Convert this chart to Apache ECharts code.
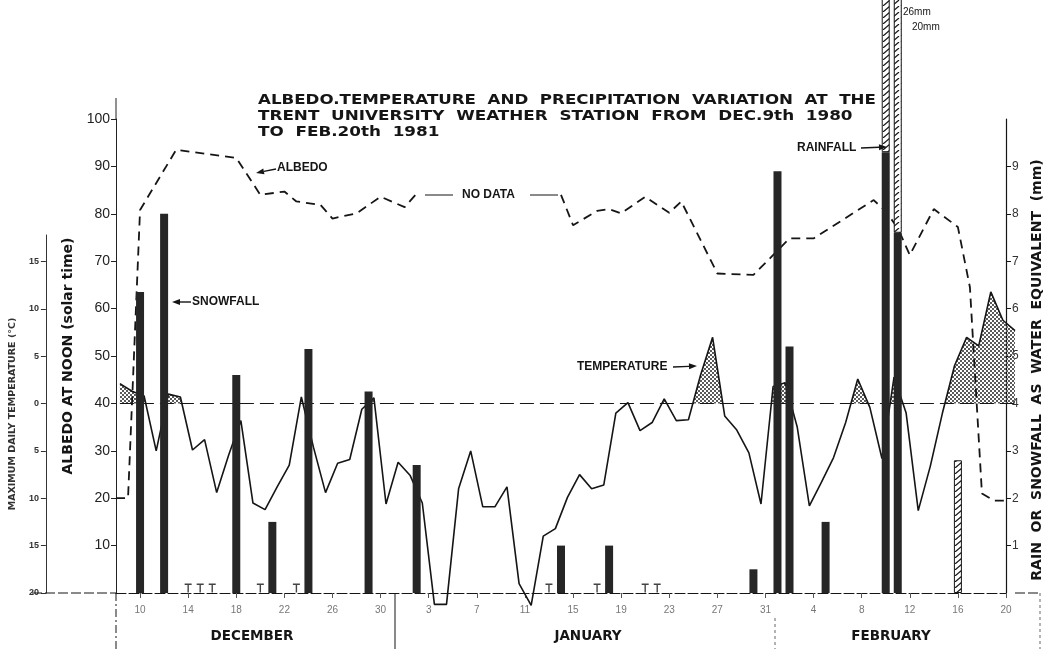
<!DOCTYPE html>
<html>
<head>
<meta charset="utf-8">
<script src="https://cdn.jsdelivr.net/npm/echarts@6/dist/echarts.min.js"></script>
<style>
html, body { margin: 0; padding: 0; background: #fff; }
#chart { width: 1052px; height: 649px; }
</style>
</head>
<body>
<div id="chart"></div>
<script>
// one category per day, Dec 8 1980 .. Feb 20 1981
var days = [
	'Dec 8','Dec 9','Dec 10','Dec 11','Dec 12','Dec 13','Dec 14','Dec 15','Dec 16','Dec 17','Dec 18','Dec 19',
	'Dec 20','Dec 21','Dec 22','Dec 23','Dec 24','Dec 25','Dec 26','Dec 27','Dec 28','Dec 29','Dec 30','Dec 31',
	'Jan 1','Jan 2','Jan 3','Jan 4','Jan 5','Jan 6','Jan 7','Jan 8','Jan 9','Jan 10','Jan 11','Jan 12','Jan 13',
	'Jan 14','Jan 15','Jan 16','Jan 17','Jan 18','Jan 19','Jan 20','Jan 21','Jan 22','Jan 23','Jan 24','Jan 25',
	'Jan 26','Jan 27','Jan 28','Jan 29','Jan 30','Jan 31',
	'Feb 1','Feb 2','Feb 3','Feb 4','Feb 5','Feb 6','Feb 7','Feb 8','Feb 9','Feb 10','Feb 11','Feb 12','Feb 13',
	'Feb 14','Feb 15','Feb 16','Feb 17','Feb 18','Feb 19','Feb 20'
];
var tickDays = ['Dec 10','Dec 14','Dec 18','Dec 22','Dec 26','Dec 30','Jan 3','Jan 7','Jan 11','Jan 15',
	'Jan 19','Jan 23','Jan 27','Jan 31','Feb 4','Feb 8','Feb 12','Feb 16','Feb 20'];

// maximum daily temperature (deg C), one per day
var temps = [
	2.1, 1.3, 0.8, -5.0, 1.0, 0.7, -4.9, -3.8, -9.4, -5.4, -1.8, -10.5,
	-11.2, -8.8, -6.5, 0.7, -4.6, -9.4, -6.3, -5.9, -0.6, 0.6, -10.6, -6.2,
	-7.6, -10.5, -21.2, -21.2, -9.0, -5.0, -10.9, -10.9, -8.8, -19.0, -21.3, -14.0, -13.2,
	-9.9, -7.5, -9.0, -8.6, -1.0, 0.1, -2.85, -2.0, 0.5, -1.8, -1.7, 3.0,
	7.0, -1.3, -2.8, -5.2, -10.6, 1.8,
	2.2, -2.5, -10.8, -8.3, -5.7, -2.0, 2.6, -0.4, -5.8, 2.8, -1.0, -11.3, -6.6,
	-1.0, 4.0, 7.0, 6.1, 11.8, 8.8, 7.7
];

// albedo at noon (%), before and after the gap with no data
var albedoDaysA = ['Dec 8','Dec 9','Dec 10','Dec 13','Dec 18','Dec 20','Dec 22','Dec 23','Dec 25','Dec 26','Dec 28','Dec 30','Jan 1','Jan 2'];
var albedoA = [20, 20, 80.8, 93.5, 91.8, 84.0, 84.7, 82.6, 81.9, 79.0, 80.1, 83.6, 81.4, 84.3];
var albedoDaysB = ['Jan 14','Jan 15','Jan 17','Jan 18','Jan 19','Jan 21','Jan 23','Jan 24','Jan 27','Jan 30','Feb 2',
	'Feb 4','Feb 9','Feb 10','Feb 11','Feb 12','Feb 14','Feb 16','Feb 17','Feb 18','Feb 19','Feb 20'];
var albedoB = [84.0, 77.6, 80.6, 81.0, 80.1, 83.6, 80.2, 82.6, 67.4, 67.1, 74.8, 74.8, 82.9, 80.5, 77.0, 71.3, 81.0, 77.2, 64.5, 21, 19.5, 19.5];

// precipitation as water equivalent (mm)
var snowDays = ['Dec 10','Dec 12','Dec 18','Dec 21','Dec 24','Dec 29','Jan 2','Jan 14','Jan 18','Jan 30','Feb 1','Feb 2','Feb 5','Feb 10','Feb 11'];
var snowMm = [6.35, 8.0, 4.6, 1.5, 5.15, 4.25, 2.7, 1.0, 1.0, 0.5, 8.9, 5.2, 1.5, 9.3, 7.6];
var rainDays = ['Feb 10','Feb 11','Feb 16'];
var rainMm = [16.7, 12.4, 2.8];
var traceDays = ['Dec 14','Dec 15','Dec 16','Dec 20','Dec 23','Jan 13','Jan 17','Jan 21','Jan 22'];

var INK = '#151515';

function onDays(list, vals) {
	return days.map(d => {
		let k = list.indexOf(d);
		return k < 0 ? null : vals[k];
	});
}
function pairs(list, vals) {
	return list.map((d, k) => [d, vals[k]]);
}
function makePattern(w, h, draw) {
	let c = document.createElement('canvas');
	c.width = w; c.height = h;
	draw(c.getContext('2d'));
	return { image: c, repeat: 'repeat' };
}
var dots = makePattern(4, 4, ctx => {
	ctx.fillStyle = '#5a5a5a';
	ctx.fillRect(0, 0, 2, 2);
	ctx.fillRect(2, 2, 2, 2);
});
var hatch = makePattern(9, 6, ctx => {
	ctx.fillStyle = '#fff';
	ctx.fillRect(0, 0, 9, 6);
	ctx.strokeStyle = INK;
	ctx.lineWidth = 1.2;
	ctx.beginPath();
	ctx.moveTo(1, 6); ctx.lineTo(8, 0);
	ctx.stroke();
});

// stippled area where the temperature is above 0 deg C
function renderWarm(params, api) {
	let polys = [], cur = null;
	let pt = (i, v) => api.coord([i, v]);
	let cross = i => {
		let a = pt(i, 0), b = pt(i + 1, 0);
		let f = temps[i] / (temps[i] - temps[i + 1]);
		return [a[0] + (b[0] - a[0]) * f, a[1]];
	};
	for (let i = 0; i < temps.length; i++) {
		let v = temps[i];
		if (v > 0) {
			if (!cur) cur = [i > 0 ? cross(i - 1) : pt(i, 0)];
			cur.push(pt(i, v));
		} else if (cur) {
			cur.push(cross(i - 1));
			polys.push(cur);
			cur = null;
		}
	}
	if (cur) { cur.push(pt(temps.length - 1, 0)); polys.push(cur); }
	return {
		type: 'group',
		children: polys.map(p => ({ type: 'polygon', shape: { points: p }, style: { fill: dots, stroke: null } }))
	};
}

function txt(x, y, text, font, extra, align) {
	return Object.assign({
		type: 'text', x: x, y: y, z: 20,
		style: { text: text, font: font, fill: INK, align: align || 'left', verticalAlign: 'middle' }
	}, extra || {});
}
function seg(x1, y1, x2, y2, dash, color) {
	return { type: 'line', z: 20, shape: { x1: x1, y1: y1, x2: x2, y2: y2 },
		style: { stroke: color || INK, lineWidth: 1, lineDash: dash || null } };
}
function arrow(x1, y1, x2, y2) {
	let a = Math.atan2(y2 - y1, x2 - x1), L = 8, W = 3;
	let bx = x2 - L * Math.cos(a), by = y2 - L * Math.sin(a);
	return [
		{ type: 'line', z: 20, shape: { x1: x1, y1: y1, x2: bx, y2: by }, style: { stroke: INK, lineWidth: 1.4 } },
		{ type: 'polygon', z: 20, shape: { points: [[x2, y2], [bx - W * Math.sin(a), by + W * Math.cos(a)], [bx + W * Math.sin(a), by - W * Math.cos(a)]] }, style: { fill: INK } }
	];
}

var TITLE = 'bold 14px "DejaVu Sans"';
var LBL = 'bold 12px "Liberation Sans"';
var MONTH = 'bold 13.5px "DejaVu Sans"';

var graphics = [
	txt(258, 100, 'ALBEDO.TEMPERATURE  AND  PRECIPITATION  VARIATION  AT  THE', TITLE, { scaleX: 1.19 }),
	txt(258, 116, 'TRENT  UNIVERSITY  WEATHER  STATION  FROM  DEC.9th  1980', TITLE, { scaleX: 1.2 }),
	txt(258, 132, 'TO  FEB.20th  1981', TITLE, { scaleX: 1.2 }),
	txt(277, 168, 'ALBEDO', LBL),
	...arrow(276, 169, 256, 173),
	txt(192, 302, 'SNOWFALL', LBL),
	...arrow(191, 302, 172, 302),
	seg(425, 195, 453, 195),
	txt(462, 195, 'NO DATA', LBL),
	seg(530, 195, 558, 195),
	txt(577, 367, 'TEMPERATURE', LBL),
	...arrow(673, 367, 697, 366),
	txt(797, 148, 'RAINFALL', LBL),
	...arrow(861, 148, 887, 147),
	txt(903, 12, '26mm', '10px "Liberation Sans"'),
	txt(912, 27, '20mm', '10px "Liberation Sans"'),
	txt(252, 636, 'DECEMBER', MONTH, null, 'center'),
	txt(588, 636, 'JANUARY', MONTH, null, 'center'),
	txt(891, 636, 'FEBRUARY', MONTH, null, 'center'),
	seg(116, 98, 116, 119, null, '#222'),
	seg(32, 593, 116, 593, [10, 3]),
	seg(1015, 593, 1040, 593, [10, 3]),
	seg(116, 593, 116, 649, [8, 3, 2, 3]),
	seg(395, 593, 395, 649),
	seg(775, 618, 775, 649, [3, 3], '#666'),
	seg(1040, 593, 1040, 649, [3, 3], '#666')
];

var option = {
	animation: false,
	backgroundColor: '#fff',
	grid: [
		{ left: 116, right: 37, top: 119, bottom: 56 },
		{ left: 116, right: 37, top: 235, bottom: 56 }
	],
	xAxis: [
		{
			type: 'category', gridIndex: 0, data: days, boundaryGap: false,
			axisLine: { onZero: false, lineStyle: { color: INK, width: 1, type: [10, 3] } },
			axisTick: { interval: (i, v) => tickDays.indexOf(v) >= 0, length: 5, lineStyle: { color: '#555' } },
			axisLabel: {
				interval: (i, v) => tickDays.indexOf(v) >= 0,
				formatter: v => v.split(' ')[1],
				color: '#777', fontSize: 10, fontFamily: 'Liberation Sans', margin: 12
			},
			splitLine: { show: false }
		},
		{ type: 'category', gridIndex: 1, data: days, boundaryGap: false, show: false }
	],
	yAxis: [
		{
			type: 'value', gridIndex: 0, min: 0, max: 100, interval: 10, position: 'left',
			name: 'ALBEDO AT NOON (solar time)', nameLocation: 'middle', nameGap: 34, nameRotate: 90,
			nameTextStyle: { color: INK, fontSize: 14, fontWeight: 'bold', fontFamily: 'DejaVu Sans' },
			axisLine: { show: true, lineStyle: { color: '#222', width: 1 } },
			axisTick: { show: true, length: 5, lineStyle: { color: '#222' } },
			axisLabel: { showMinLabel: false, color: '#222', fontSize: 14, fontFamily: 'Liberation Sans', margin: 6 },
			splitLine: { show: false }
		},
		{
			type: 'value', gridIndex: 0, min: 0, max: 10, interval: 1, position: 'right',
			name: 'RAIN  OR  SNOWFALL  AS  WATER  EQUIVALENT  (mm)', nameLocation: 'middle', nameGap: 24, nameRotate: 90,
			nameTextStyle: { color: INK, fontSize: 14, fontWeight: 'bold', fontFamily: 'DejaVu Sans', padding: [0, 28, 0, 0] },
			axisLine: { show: true, lineStyle: { color: INK, width: 1.2 } },
			axisTick: { show: true, length: 5, lineStyle: { color: INK } },
			axisLabel: { showMinLabel: false, showMaxLabel: false, color: '#333', fontSize: 12, fontFamily: 'Liberation Sans', margin: 6 },
			splitLine: { show: false }
		},
		{
			type: 'value', gridIndex: 1, min: -20, max: 17.8, interval: 5, position: 'left', offset: 74,
			name: 'MAXIMUM DAILY TEMPERATURE (°C)', nameLocation: 'middle', nameGap: 20, nameRotate: 90,
			nameTextStyle: { color: '#333', fontSize: 9.5, fontWeight: 'bold', fontFamily: 'DejaVu Sans' },
			axisLine: { show: true, lineStyle: { color: '#333', width: 1 } },
			axisTick: { show: true, length: 5, lineStyle: { color: '#333' } },
			axisLabel: {
				showMaxLabel: false, color: '#333', fontSize: 9, fontWeight: 'bold', fontFamily: 'Liberation Sans', margin: 7,
				formatter: v => String(Math.abs(v))
			},
			splitLine: { show: false }
		}
	],
	series: [
		{
			name: 'warm', type: 'custom', xAxisIndex: 1, yAxisIndex: 2, z: 2,
			data: [[0, 0]], renderItem: renderWarm, silent: true
		},
		{
			name: 'Temperature', type: 'line', xAxisIndex: 1, yAxisIndex: 2, z: 3,
			data: temps, showSymbol: false, clip: false,
			lineStyle: { color: INK, width: 1.6 },
			markLine: {
				silent: true, symbol: 'none', label: { show: false },
				lineStyle: { color: INK, width: 1.2, type: [14, 6] },
				data: [{ yAxis: 0 }]
			}
		},
		{
			name: 'Albedo', type: 'line', xAxisIndex: 0, yAxisIndex: 0, z: 3,
			data: pairs(albedoDaysA, albedoA), showSymbol: false,
			lineStyle: { color: INK, width: 1.8, type: [9, 6] }
		},
		{
			name: 'Albedo ', type: 'line', xAxisIndex: 0, yAxisIndex: 0, z: 3,
			data: pairs(albedoDaysB, albedoB), showSymbol: false,
			lineStyle: { color: INK, width: 1.8, type: [9, 6] }
		},
		{
			name: 'Snowfall', type: 'bar', xAxisIndex: 0, yAxisIndex: 1, stack: 'precip', z: 5,
			data: onDays(snowDays, snowMm), barWidth: 8, clip: false,
			itemStyle: { color: '#262626' }
		},
		{
			name: 'Rainfall', type: 'bar', xAxisIndex: 0, yAxisIndex: 1, stack: 'precip', z: 5,
			data: onDays(rainDays, rainMm), barWidth: 8, clip: false,
			itemStyle: { color: hatch, borderColor: INK, borderWidth: 1 }
		},
		{
			name: 'Trace', type: 'scatter', xAxisIndex: 0, yAxisIndex: 1, z: 4,
			data: traceDays.map(d => [d, 0]),
			symbol: 'path://M0,0H10V2H6V12H4V2H0Z', symbolSize: [7, 9], symbolOffset: [0, -5],
			itemStyle: { color: INK }
		}
	],
	graphic: { elements: graphics }
};

var chart = echarts.init(document.getElementById('chart'));
chart.setOption(option);
</script>
</body>
</html>
